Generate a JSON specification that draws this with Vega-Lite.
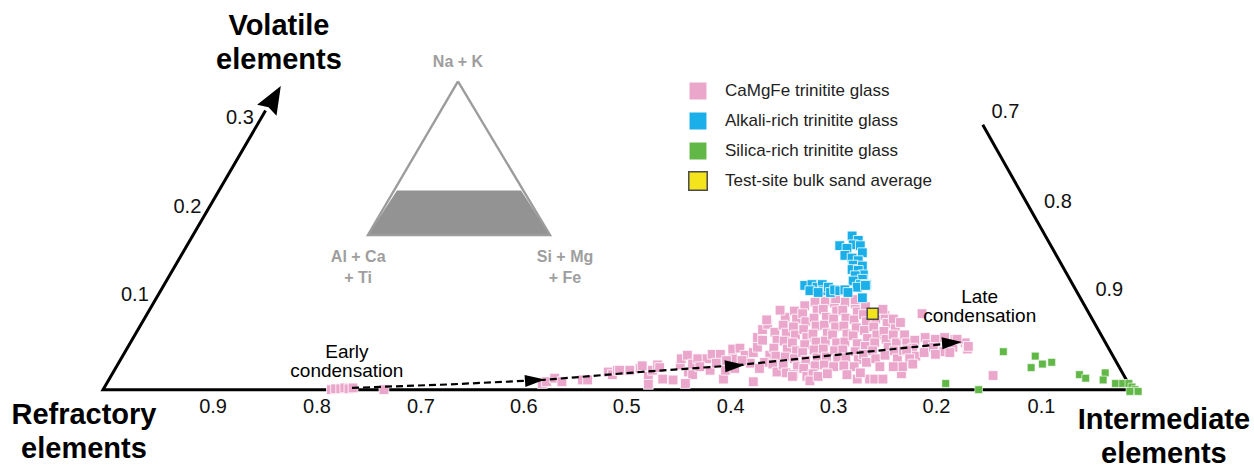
{
  "$schema": "https://vega.github.io/schema/vega-lite/v6.json",
  "width": 1254,
  "height": 470,
  "padding": 0,
  "autosize": {"type": "fit", "contains": "padding"},
  "background": "white",
  "config": {"view": {"stroke": null}, "font": "Liberation Sans"},
  "datasets": {
    "frame": [
      {"seg": "lb", "o": 1, "h": 0.158, "v": 0.316},
      {"seg": "lb", "o": 2, "h": 0, "v": 0},
      {"seg": "lb", "o": 3, "h": 1, "v": 0},
      {"seg": "right", "o": 1, "h": 0.855, "v": 0.3},
      {"seg": "right", "o": 2, "h": 1, "v": 0}
    ],
    "vol_arrow": [{"h": 0.166, "v": 0.33}],
    "inset_tri": [
      {"o": 1, "h": 0.345, "v": 0.349},
      {"o": 2, "h": 0.4344, "v": 0.1751},
      {"o": 3, "h": 0.2575, "v": 0.1751},
      {"o": 4, "h": 0.345, "v": 0.349}
    ],
    "inset_band": [
      {"h": 0.2575, "v": 0.1751, "v0": 0.1751},
      {"h": 0.2857, "v": 0.2256, "v0": 0.1751},
      {"h": 0.4062, "v": 0.2256, "v0": 0.1751},
      {"h": 0.4344, "v": 0.1751, "v0": 0.1751}
    ],
    "cond_line": [
      {"h": 0.242, "v": 0.002}, {"h": 0.337, "v": 0.006}, {"h": 0.428, "v": 0.011},
      {"h": 0.522, "v": 0.020}, {"h": 0.619, "v": 0.028}, {"h": 0.726, "v": 0.041},
      {"h": 0.828, "v": 0.053}
    ],
    "cond_arrows": [{"h": 0.4198, "v": 0.0107}, {"h": 0.6142, "v": 0.0272}, {"h": 0.8251, "v": 0.0533}],
    "camgfe": [
      {"h":0.222,"v":0.000},{"h":0.226,"v":0.001},{"h":0.231,"v":0.001},{"h":0.235,"v":0.002},{"h":0.239,"v":0.001},{"h":0.243,"v":0.002},{"h":0.273,"v":0.000},
      {"h":0.427,"v":0.007},{"h":0.431,"v":0.009},{"h":0.439,"v":0.013},{"h":0.446,"v":0.009},{"h":0.466,"v":0.011},{"h":0.471,"v":0.011},{"h":0.491,"v":0.020},{"h":0.495,"v":0.017},{"h":0.500,"v":0.022},
      {"h":0.502,"v":0.022},{"h":0.512,"v":0.022},{"h":0.522,"v":0.024},{"h":0.524,"v":0.027},{"h":0.530,"v":0.015},{"h":0.530,"v":0.006},{"h":0.534,"v":0.022},{"h":0.539,"v":0.028},{"h":0.544,"v":0.012},{"h":0.554,"v":0.011},{"h":0.541,"v":0.025},{"h":0.561,"v":0.028},{"h":0.562,"v":0.035},{"h":0.568,"v":0.039},{"h":0.569,"v":0.020},{"h":0.573,"v":0.017},{"h":0.573,"v":0.029},{"h":0.566,"v":0.007},{"h":0.578,"v":0.035},{"h":0.587,"v":0.035},{"h":0.592,"v":0.040},{"h":0.600,"v":0.040},{"h":0.590,"v":0.022},{"h":0.603,"v":0.012},{"h":0.612,"v":0.035},{"h":0.612,"v":0.046},{"h":0.619,"v":0.047},{"h":0.624,"v":0.039},{"h":0.632,"v":0.042},{"h":0.636,"v":0.048},{"h":0.632,"v":0.009},{"h":0.636,"v":0.059},{"h":0.641,"v":0.056},{"h":0.641,"v":0.068},{"h":0.646,"v":0.074},{"h":0.648,"v":0.039},{"h":0.643,"v":0.031},{"h":0.605,"v":0.022},{"h":0.614,"v":0.024},{"h":0.629,"v":0.030},{"h":0.638,"v":0.024},{"h":0.580,"v":0.026},{"h":0.596,"v":0.030},{"h":0.606,"v":0.033},{"h":0.621,"v":0.033},
      {"h":0.653,"v":0.065},{"h":0.655,"v":0.056},{"h":0.652,"v":0.047},{"h":0.654,"v":0.038},{"h":0.651,"v":0.029},{"h":0.655,"v":0.020},
      {"h":0.663,"v":0.082},{"h":0.661,"v":0.073},{"h":0.664,"v":0.064},{"h":0.662,"v":0.055},{"h":0.665,"v":0.046},{"h":0.663,"v":0.037},{"h":0.661,"v":0.028},{"h":0.664,"v":0.019},
      {"h":0.672,"v":0.089},{"h":0.674,"v":0.080},{"h":0.671,"v":0.071},{"h":0.673,"v":0.062},{"h":0.670,"v":0.053},{"h":0.674,"v":0.044},{"h":0.672,"v":0.035},{"h":0.675,"v":0.026},{"h":0.671,"v":0.017},
      {"h":0.682,"v":0.095},{"h":0.680,"v":0.086},{"h":0.683,"v":0.077},{"h":0.681,"v":0.068},{"h":0.684,"v":0.059},{"h":0.682,"v":0.051},{"h":0.680,"v":0.042},{"h":0.683,"v":0.033},{"h":0.681,"v":0.024},{"h":0.684,"v":0.015},
      {"h":0.692,"v":0.099},{"h":0.694,"v":0.090},{"h":0.691,"v":0.081},{"h":0.693,"v":0.072},{"h":0.690,"v":0.063},{"h":0.693,"v":0.054},{"h":0.691,"v":0.045},{"h":0.694,"v":0.036},{"h":0.692,"v":0.027},{"h":0.690,"v":0.018},
      {"h":0.702,"v":0.100},{"h":0.700,"v":0.091},{"h":0.703,"v":0.082},{"h":0.701,"v":0.073},{"h":0.704,"v":0.064},{"h":0.702,"v":0.055},{"h":0.700,"v":0.046},{"h":0.703,"v":0.037},{"h":0.701,"v":0.028},{"h":0.704,"v":0.019},
      {"h":0.711,"v":0.098},{"h":0.713,"v":0.089},{"h":0.710,"v":0.080},{"h":0.712,"v":0.071},{"h":0.709,"v":0.062},{"h":0.713,"v":0.053},{"h":0.711,"v":0.044},{"h":0.714,"v":0.035},{"h":0.710,"v":0.026},
      {"h":0.721,"v":0.099},{"h":0.719,"v":0.090},{"h":0.722,"v":0.081},{"h":0.720,"v":0.072},{"h":0.723,"v":0.063},{"h":0.721,"v":0.054},{"h":0.719,"v":0.045},{"h":0.722,"v":0.036},{"h":0.720,"v":0.027},
      {"h":0.731,"v":0.097},{"h":0.733,"v":0.088},{"h":0.730,"v":0.079},{"h":0.732,"v":0.070},{"h":0.729,"v":0.061},{"h":0.733,"v":0.052},{"h":0.731,"v":0.043},{"h":0.734,"v":0.034},{"h":0.730,"v":0.026},
      {"h":0.741,"v":0.094},{"h":0.739,"v":0.085},{"h":0.742,"v":0.077},{"h":0.740,"v":0.067},{"h":0.743,"v":0.058},{"h":0.741,"v":0.049},{"h":0.739,"v":0.040},{"h":0.742,"v":0.031},
      {"h":0.751,"v":0.080},{"h":0.749,"v":0.071},{"h":0.752,"v":0.062},{"h":0.750,"v":0.053},{"h":0.748,"v":0.044},{"h":0.751,"v":0.035},
      {"h":0.760,"v":0.084},{"h":0.762,"v":0.075},{"h":0.759,"v":0.066},{"h":0.761,"v":0.057},{"h":0.763,"v":0.048},{"h":0.760,"v":0.039},
      {"h":0.770,"v":0.071},{"h":0.768,"v":0.062},{"h":0.771,"v":0.053},{"h":0.769,"v":0.044},{"h":0.772,"v":0.035},
      {"h":0.779,"v":0.062},{"h":0.781,"v":0.053},{"h":0.778,"v":0.044},
      {"h":0.789,"v":0.056},{"h":0.787,"v":0.047},{"h":0.790,"v":0.038},
      {"h":0.799,"v":0.059},{"h":0.801,"v":0.051},{"h":0.798,"v":0.042},
      {"h":0.809,"v":0.057},{"h":0.807,"v":0.048},
      {"h":0.818,"v":0.059},{"h":0.820,"v":0.051},{"h":0.817,"v":0.043},
      {"h":0.828,"v":0.057},{"h":0.826,"v":0.048},
      {"h":0.838,"v":0.053},{"h":0.840,"v":0.046},
      {"h":0.658,"v":0.090},{"h":0.645,"v":0.079},{"h":0.670,"v":0.015},{"h":0.687,"v":0.010},{"h":0.695,"v":0.015},{"h":0.704,"v":0.018},{"h":0.723,"v":0.017},{"h":0.733,"v":0.012},{"h":0.745,"v":0.012},{"h":0.750,"v":0.012},{"h":0.758,"v":0.012},{"h":0.776,"v":0.018},{"h":0.736,"v":0.019},{"h":0.758,"v":0.091},{"h":0.768,"v":0.080},{"h":0.775,"v":0.076},{"h":0.781,"v":0.045},{"h":0.841,"v":0.049},{"h":0.784,"v":0.035},{"h":0.777,"v":0.026},{"h":0.787,"v":0.029},{"h":0.796,"v":0.086},{"h":0.865,"v":0.016},{"h":0.755,"v":0.026},{"h":0.768,"v":0.026},{"h":0.809,"v":0.040},{"h":0.823,"v":0.042},{"h":0.830,"v":0.057},{"h":0.712,"v":0.103},{"h":0.731,"v":0.102}
    ],
    "alkali": [
      {"h":0.728,"v":0.174},{"h":0.734,"v":0.169},{"h":0.729,"v":0.164},{"h":0.736,"v":0.163},{"h":0.716,"v":0.163},{"h":0.723,"v":0.160},{"h":0.738,"v":0.155},{"h":0.721,"v":0.152},{"h":0.728,"v":0.149},{"h":0.734,"v":0.146},{"h":0.729,"v":0.141},{"h":0.738,"v":0.140},{"h":0.728,"v":0.136},{"h":0.734,"v":0.135},{"h":0.739,"v":0.130},{"h":0.731,"v":0.129},{"h":0.738,"v":0.125},{"h":0.729,"v":0.123},{"h":0.736,"v":0.119},{"h":0.742,"v":0.119},{"h":0.733,"v":0.116},{"h":0.682,"v":0.118},{"h":0.689,"v":0.119},{"h":0.694,"v":0.116},{"h":0.699,"v":0.119},{"h":0.700,"v":0.112},{"h":0.705,"v":0.116},{"h":0.707,"v":0.110},{"h":0.711,"v":0.113},{"h":0.716,"v":0.112},{"h":0.721,"v":0.113},{"h":0.687,"v":0.112},{"h":0.695,"v":0.110},{"h":0.724,"v":0.110},{"h":0.738,"v":0.104},{"h":0.741,"v":0.118}
    ],
    "silica": [
      {"h":0.875,"v":0.043},{"h":0.819,"v":0.007},{"h":0.851,"v":0.000},{"h":0.906,"v":0.038},{"h":0.902,"v":0.025},{"h":0.913,"v":0.029},{"h":0.922,"v":0.031},{"h":0.949,"v":0.017},{"h":0.955,"v":0.013},{"h":0.974,"v":0.019},{"h":0.972,"v":0.011},{"h":0.984,"v":0.007},{"h":0.991,"v":0.007},{"h":0.997,"v":0.007},{"h":1.000,"v":0.003},{"h":1.003,"v":0.000},{"h":0.998,"v":-0.002},{"h":1.006,"v":-0.002}
    ],
    "bulk": [{"h": 0.748, "v": 0.086}],
    "titles": [
      {"t": "Volatile\nelements", "h": 0.171, "v": 0.4018},
      {"t": "Refractory\nelements", "h": -0.0185, "v": -0.0393},
      {"t": "Intermediate\nelements", "h": 1.031, "v": -0.0449}
    ],
    "ticks": [
      {"t": "0.9", "h": 0.107, "v": -0.026}, {"t": "0.8", "h": 0.208, "v": -0.026}, {"t": "0.7", "h": 0.309, "v": -0.026},
      {"t": "0.6", "h": 0.409, "v": -0.026}, {"t": "0.5", "h": 0.509, "v": -0.026}, {"t": "0.4", "h": 0.610, "v": -0.026},
      {"t": "0.3", "h": 0.710, "v": -0.026}, {"t": "0.2", "h": 0.810, "v": -0.026}, {"t": "0.1", "h": 0.912, "v": -0.026},
      {"t": "0.1", "h": 0.031, "v": 0.100}, {"t": "0.2", "h": 0.082, "v": 0.200}, {"t": "0.3", "h": 0.133, "v": 0.301},
      {"t": "0.7", "h": 0.877, "v": 0.3075}, {"t": "0.8", "h": 0.928, "v": 0.206}, {"t": "0.9", "h": 0.978, "v": 0.1055}
    ],
    "notes": [
      {"t": "Early\ncondensation", "h": 0.237, "v": 0.0355},
      {"t": "Late\ncondensation", "h": 0.852, "v": 0.0985}
    ],
    "inset_labels": [
      {"t": "Na + K", "h": 0.345, "v": 0.365},
      {"t": "Al + Ca\n+ Ti", "h": 0.248, "v": 0.145},
      {"t": "Si + Mg\n+ Fe", "h": 0.449, "v": 0.145}
    ]
  },
  "encoding": {
    "x": {"field": "h", "type": "quantitative", "scale": {"domain": [-0.1001, 1.1186], "nice": false, "zero": false}, "axis": null},
    "y": {"field": "v", "type": "quantitative", "scale": {"domain": [-0.0864, 0.4411], "nice": false, "zero": false}, "axis": null}
  },
  "layer": [
    {
      "data": {"name": "inset_band"},
      "mark": {"type": "area", "color": "#939393"},
      "encoding": {"y2": {"field": "v0"}}
    },
    {
      "data": {"name": "inset_tri"},
      "mark": {"type": "line", "color": "#9c9c9c", "strokeWidth": 2.4, "strokeJoin": "miter"},
      "encoding": {"order": {"field": "o"}}
    },
    {
      "data": {"name": "frame"},
      "mark": {"type": "line", "color": "black", "strokeWidth": 3, "strokeJoin": "miter"},
      "encoding": {"detail": {"field": "seg"}, "order": {"field": "o"}}
    },
    {
      "data": {"name": "vol_arrow"},
      "mark": {"type": "point", "shape": "M0,-1L0.8,1L0,0.75L-0.8,1Z", "filled": true, "color": "black", "size": 784, "angle": 30, "opacity": 1, "strokeWidth": 0},
      "encoding": {}
    },
    {
      "data": {"name": "camgfe"},
      "mark": {"type": "point", "shape": "square", "filled": true, "size": 95, "opacity": 1, "strokeWidth": 0.8},
      "encoding": {
        "color": {
          "datum": "CaMgFe trinitite glass", "type": "nominal",
          "scale": {"domain": ["CaMgFe trinitite glass", "Alkali-rich trinitite glass", "Silica-rich trinitite glass", "Test-site bulk sand average"], "range": ["#eaa6cb", "#1aafe8", "#62b847", "#f4e41c"]},
          "legend": {
            "orient": "none", "legendX": 688, "legendY": 81, "title": null, "padding": 0,
            "symbolType": "square", "symbolSize": 340, "symbolOpacity": 1,
            "labelFontSize": 17, "labelFont": "Liberation Sans", "labelColor": "#222222", "labelOffset": 17, "labelLimit": 0,
            "rowPadding": 4, "symbolStrokeWidth": 1.5
          }
        },
        "stroke": {
          "datum": "CaMgFe trinitite glass", "type": "nominal",
          "scale": {"domain": ["CaMgFe trinitite glass", "Alkali-rich trinitite glass", "Silica-rich trinitite glass", "Test-site bulk sand average"], "range": ["#ffffff", "#ffffff", "#ffffff", "#4a4a4a"]},
          "legend": {
            "orient": "none", "legendX": 688, "legendY": 81, "title": null, "padding": 0,
            "symbolType": "square", "symbolSize": 340, "symbolOpacity": 1,
            "labelFontSize": 17, "labelFont": "Liberation Sans", "labelColor": "#222222", "labelOffset": 17, "labelLimit": 0,
            "rowPadding": 4, "symbolStrokeWidth": 1.5
          }
        }
      }
    },
    {
      "data": {"name": "alkali"},
      "mark": {"type": "point", "shape": "square", "filled": true, "size": 95, "opacity": 1, "strokeWidth": 0.8},
      "encoding": {
        "color": {"datum": "Alkali-rich trinitite glass", "type": "nominal",
          "scale": {"domain": ["CaMgFe trinitite glass", "Alkali-rich trinitite glass", "Silica-rich trinitite glass", "Test-site bulk sand average"], "range": ["#eaa6cb", "#1aafe8", "#62b847", "#f4e41c"]}},
        "stroke": {"datum": "Alkali-rich trinitite glass", "type": "nominal",
          "scale": {"domain": ["CaMgFe trinitite glass", "Alkali-rich trinitite glass", "Silica-rich trinitite glass", "Test-site bulk sand average"], "range": ["#ffffff", "#ffffff", "#ffffff", "#4a4a4a"]}}
      }
    },
    {
      "data": {"name": "silica"},
      "mark": {"type": "point", "shape": "square", "filled": true, "size": 60, "opacity": 1, "strokeWidth": 0.6},
      "encoding": {
        "color": {"datum": "Silica-rich trinitite glass", "type": "nominal",
          "scale": {"domain": ["CaMgFe trinitite glass", "Alkali-rich trinitite glass", "Silica-rich trinitite glass", "Test-site bulk sand average"], "range": ["#eaa6cb", "#1aafe8", "#62b847", "#f4e41c"]}},
        "stroke": {"datum": "Silica-rich trinitite glass", "type": "nominal",
          "scale": {"domain": ["CaMgFe trinitite glass", "Alkali-rich trinitite glass", "Silica-rich trinitite glass", "Test-site bulk sand average"], "range": ["#ffffff", "#ffffff", "#ffffff", "#4a4a4a"]}}
      }
    },
    {
      "data": {"name": "bulk"},
      "mark": {"type": "point", "shape": "square", "filled": true, "size": 120, "opacity": 1, "strokeWidth": 1.5},
      "encoding": {
        "color": {"datum": "Test-site bulk sand average", "type": "nominal",
          "scale": {"domain": ["CaMgFe trinitite glass", "Alkali-rich trinitite glass", "Silica-rich trinitite glass", "Test-site bulk sand average"], "range": ["#eaa6cb", "#1aafe8", "#62b847", "#f4e41c"]}},
        "stroke": {"datum": "Test-site bulk sand average", "type": "nominal",
          "scale": {"domain": ["CaMgFe trinitite glass", "Alkali-rich trinitite glass", "Silica-rich trinitite glass", "Test-site bulk sand average"], "range": ["#ffffff", "#ffffff", "#ffffff", "#4a4a4a"]}}
      }
    },
    {
      "data": {"name": "cond_line"},
      "mark": {"type": "line", "color": "black", "strokeWidth": 2.2, "strokeDash": [7, 4]},
      "encoding": {}
    },
    {
      "data": {"name": "cond_arrows"},
      "mark": {"type": "point", "shape": "M0,-1L0.6,1L-0.6,1Z", "filled": true, "color": "black", "size": 400, "angle": 86, "opacity": 1, "strokeWidth": 0},
      "encoding": {}
    },
    {
      "data": {"name": "titles"},
      "mark": {"type": "text", "fontSize": 29, "fontWeight": "bold", "lineBreak": "\n", "lineHeight": 34, "align": "center", "baseline": "alphabetic", "color": "black"},
      "encoding": {"text": {"field": "t"}}
    },
    {
      "data": {"name": "ticks"},
      "mark": {"type": "text", "fontSize": 20, "align": "center", "baseline": "alphabetic", "color": "#111111"},
      "encoding": {"text": {"field": "t"}}
    },
    {
      "data": {"name": "notes"},
      "mark": {"type": "text", "fontSize": 19, "lineBreak": "\n", "lineHeight": 19, "align": "center", "baseline": "alphabetic", "color": "black"},
      "encoding": {"text": {"field": "t"}}
    },
    {
      "data": {"name": "inset_labels"},
      "mark": {"type": "text", "fontSize": 16, "fontWeight": "bold", "lineBreak": "\n", "lineHeight": 21, "align": "center", "baseline": "alphabetic", "color": "#9e9e9e"},
      "encoding": {"text": {"field": "t"}}
    }
  ]
}
